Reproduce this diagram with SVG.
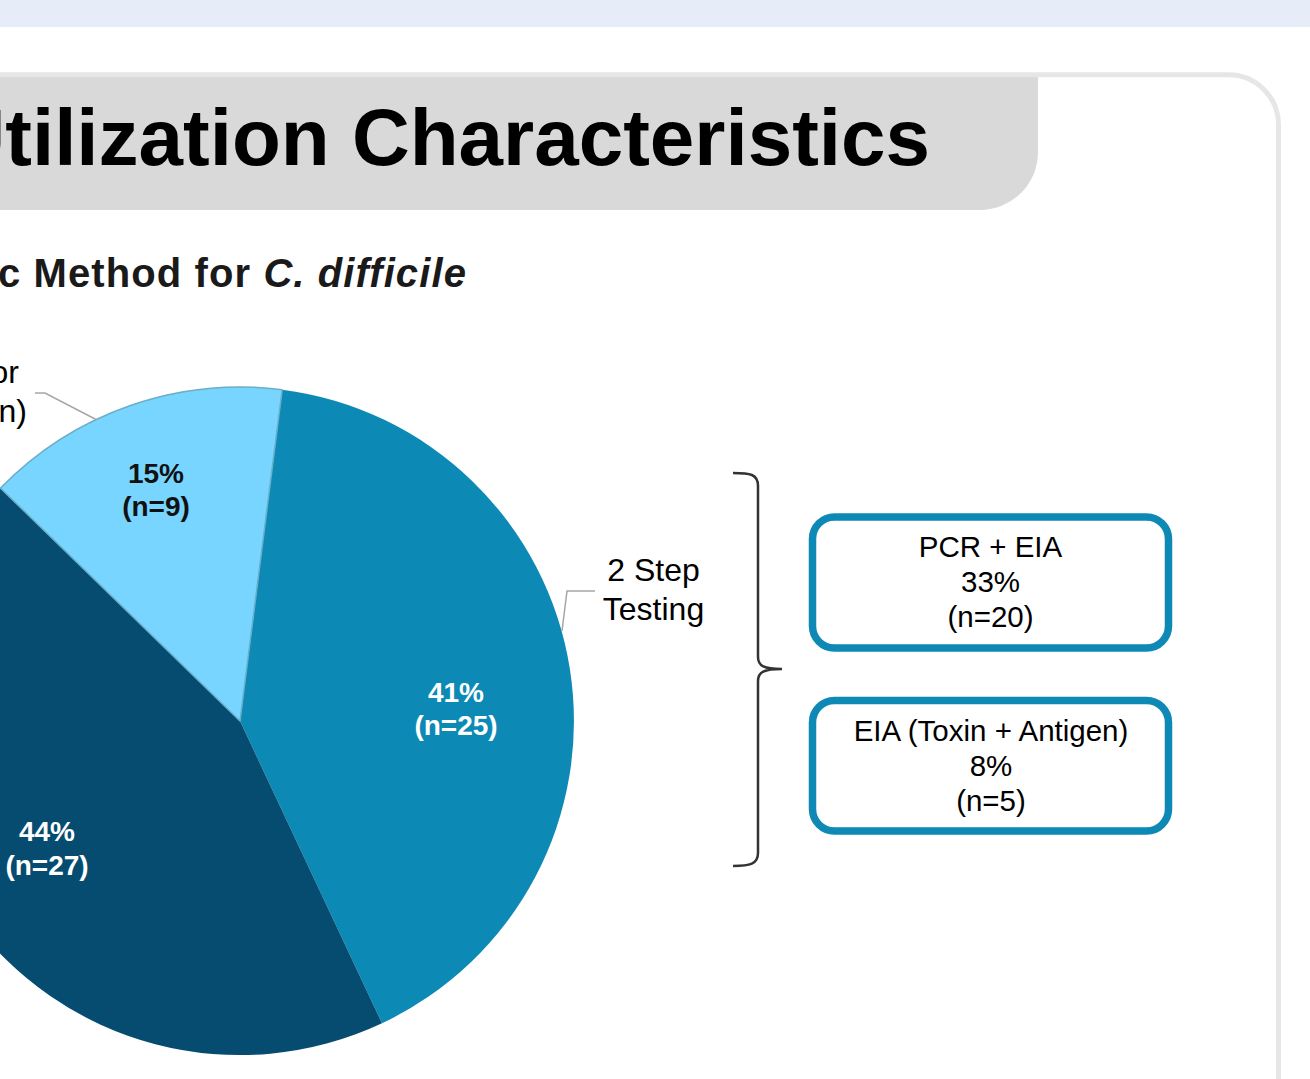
<svg xmlns="http://www.w3.org/2000/svg" width="1310" height="1079" viewBox="0 0 1310 1079">
  <style>
    .sans { font-family: "Liberation Sans", Arial, sans-serif; }
    .pct { font-family: "Liberation Sans", Arial, sans-serif; font-weight: bold; font-size: 28px; text-anchor: middle; }
    .lbl { font-family: "Liberation Sans", Arial, sans-serif; font-size: 32px; fill: #000; }
    .boxtxt { font-family: "Liberation Sans", Arial, sans-serif; font-size: 29.5px; fill: #000; text-anchor: middle; }
    .box { fill: #fff; stroke: #0E89B5; stroke-width: 7.5; }
    .leader { fill: none; stroke: #A6A6A6; stroke-width: 1.5; }
  </style>

  <!-- page background and top band -->
  <rect x="0" y="0" width="1310" height="1079" fill="#fff"/>
  <rect x="0" y="0" width="1310" height="27" fill="#E6EDF8"/>

  <!-- content panel outline -->
  <rect x="-120" y="74.8" width="1398.5" height="1100" rx="50" ry="50" fill="none" stroke="#E6E6E6" stroke-width="5"/>

  <!-- title bar -->
  <g id="title">
    <path d="M-10,77 H1038 V152 A58,58 0 0 1 980,210 H-10 Z" fill="#D9D9D9"/>
    <text class="sans" x="930" y="165" font-size="80" font-weight="bold" text-anchor="end" fill="#000">Utilization Characteristics</text>
  </g>

  <g id="subtitle">
    <text class="sans" x="467" y="287" font-size="40" font-weight="bold" letter-spacing="1.1" text-anchor="end" fill="#1A1A1A">c Method for <tspan font-style="italic">C. difficile</tspan></text>
  </g>

  <!-- pie chart, centre (240,721), r 334 -->
  <g id="pie">
    <g id="slice-two-step">
      <path d="M240,721 L282.2,389.7 A334,334 0 0 1 382,1023.3 Z" fill="#0C8AB5"/>
    </g>
    <g id="slice-pcr">
      <path d="M240,721 L382,1023.3 A334,334 0 0 1 0.5,488.1 Z" fill="#054C70"/>
    </g>
    <g id="slice-other">
      <path d="M240,721 L0.5,488.1 A334,334 0 0 1 282.2,389.7 Z" fill="#78D5FF" stroke="#6AAEC8" stroke-width="1.5" stroke-linejoin="round"/>
    </g>
    <text class="pct" x="156" y="483" fill="#111">15%</text>
    <text class="pct" x="156" y="516" fill="#111">(n=9)</text>
    <text class="pct" x="456" y="702" fill="#fff">41%</text>
    <text class="pct" x="456" y="735" fill="#fff">(n=25)</text>
    <text class="pct" x="47" y="841" fill="#fff">44%</text>
    <text class="pct" x="47" y="875" fill="#fff">(n=27)</text>
  </g>

  <!-- outside slice labels -->
  <g id="label-other">
    <text class="lbl" x="19" y="383" text-anchor="end">or</text>
    <text class="lbl" x="27" y="422" text-anchor="end">n)</text>
  </g>
  <g id="label-two-step">
    <text class="lbl" x="653.5" y="581" text-anchor="middle">2 Step</text>
    <text class="lbl" x="653.5" y="620" text-anchor="middle">Testing</text>
  </g>

  <!-- method boxes -->
  <g id="box-pcr-eia">
    <rect class="box" x="812.5" y="517" width="356" height="131" rx="22" ry="22"/>
    <text class="boxtxt" x="990.5" y="557">PCR + EIA</text>
    <text class="boxtxt" x="990.5" y="592">33%</text>
    <text class="boxtxt" x="990.5" y="627">(n=20)</text>
  </g>
  <g id="box-eia">
    <rect class="box" x="812.5" y="700.5" width="356" height="130.5" rx="22" ry="22"/>
    <text class="boxtxt" x="991" y="741">EIA (Toxin + Antigen)</text>
    <text class="boxtxt" x="991" y="776">8%</text>
    <text class="boxtxt" x="991" y="811">(n=5)</text>
  </g>

  <!-- connectors: leader lines and grouping brace -->
  <g id="connectors">
    <polyline class="leader" points="35,393 45,393 97,420"/>
    <polyline class="leader" points="595,591 567,591 562,631"/>
    <path d="M733,473 C750,473 758,474 758,486 L758,657 C758,666 764,669 782,669 C764,669 758,672 758,681 L758,853 C758,864 750,866 733,866" fill="none" stroke="#333" stroke-width="2.5"/>
  </g>
</svg>
